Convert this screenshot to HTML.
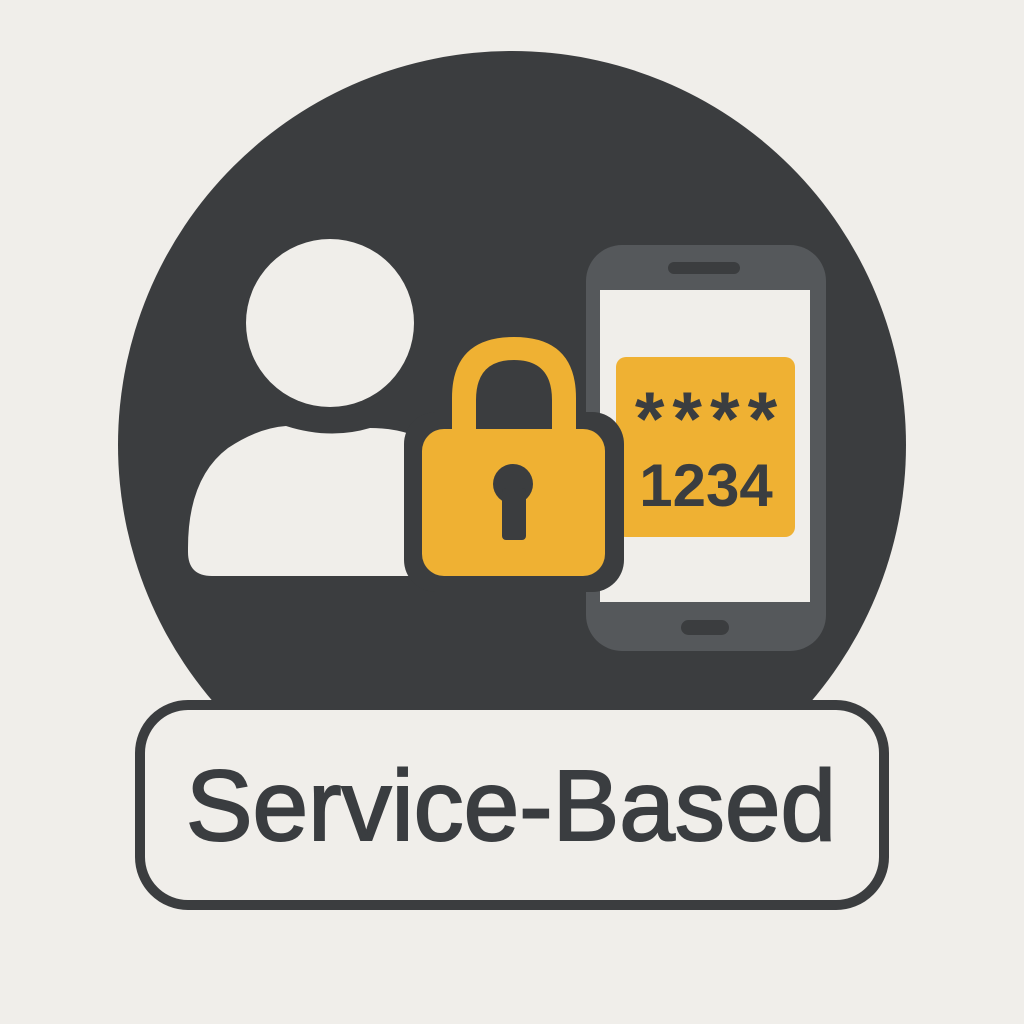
<!DOCTYPE html>
<html><head><meta charset="utf-8"><style>
html,body{margin:0;padding:0;background:#f0eeea;}
svg{display:block}
</style></head><body>
<svg width="1024" height="1024" viewBox="0 0 1024 1024" xmlns="http://www.w3.org/2000/svg">
<rect width="1024" height="1024" fill="#f0eeea"/>
<circle cx="512" cy="445" r="394" fill="#3b3d3f"/>
<!-- person -->
<circle cx="330" cy="323" r="84" fill="#f0eeea"/>
<path d="M188 548 Q188 478 228 448 Q258 428 286 426 Q330 440 370 428 Q392 428 410 434 L410 576 L212 576 Q188 576 188 552 Z" fill="#f0eeea"/>
<!-- phone -->
<rect x="586" y="245" width="240" height="406" rx="36" fill="#55585b"/>
<rect x="668" y="262" width="72" height="12" rx="6" fill="#3b3d3f"/>
<rect x="600" y="290" width="210" height="312" fill="#f0eeea"/>
<rect x="681" y="620" width="48" height="15" rx="7.5" fill="#3b3d3f"/>
<rect x="616" y="357" width="179" height="180" rx="10" fill="#efb133"/>
<text x="710" y="445" text-anchor="middle" font-family="Liberation Sans, sans-serif" font-weight="bold" font-size="76" fill="#3a3d40" letter-spacing="8">****</text>
<text x="706" y="506" text-anchor="middle" font-family="Liberation Sans, sans-serif" font-weight="bold" font-size="60" fill="#3a3d40">1234</text>
<!-- lock -->
<rect x="404" y="412" width="220" height="180" rx="32" fill="#3b3d3f"/>
<path d="M452 432 L452 398 Q452 337 514 337 Q576 337 576 398 L576 432 L552 432 L552 400 Q552 360 514 360 Q476 360 476 400 L476 432 Z" fill="#efb133"/>
<rect x="422" y="429" width="183" height="147" rx="22" fill="#efb133"/>
<circle cx="513" cy="484" r="20" fill="#3b3d3f"/>
<rect x="502" y="488" width="24" height="52" rx="4" fill="#3b3d3f"/>
<!-- label -->
<rect x="140" y="705" width="744" height="200" rx="48" fill="#f0eeea" stroke="#3b3d3f" stroke-width="10"/>
<text x="511" y="840" text-anchor="middle" font-family="Liberation Sans, sans-serif" font-size="100" fill="#3a3d40" stroke="#3a3d40" stroke-width="2">Service-Based</text>
</svg>
</body></html>
